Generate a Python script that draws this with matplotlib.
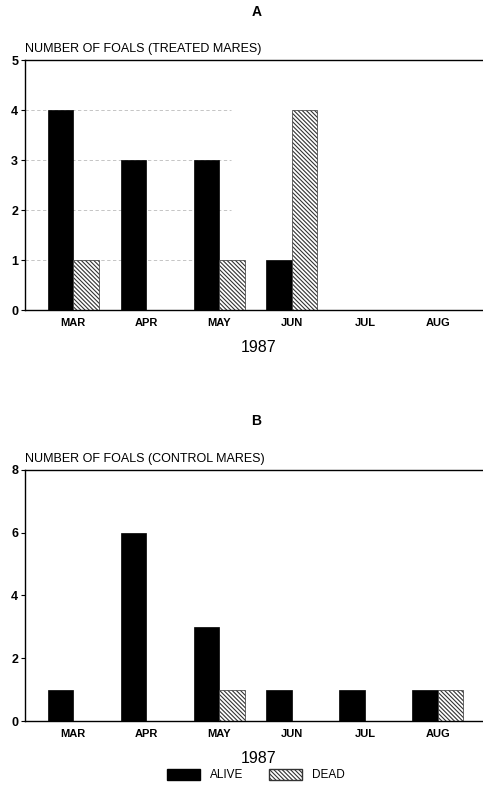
import numpy as np
import matplotlib
matplotlib.use("Agg")
import matplotlib.pyplot as plt
from matplotlib.patches import Patch

plt.rcParams['font.family'] = ['Liberation Sans', 'DejaVu Sans']
plt.rcParams['hatch.linewidth'] = 0.8

# data
months = ['MAR', 'APR', 'MAY', 'JUN', 'JUL', 'AUG']
treated_alive = [4, 3, 3, 1, 0, 0]
treated_dead = [1, 0, 1, 4, 0, 0]
control_alive = [1, 6, 3, 1, 1, 1]
control_dead = [0, 0, 1, 0, 0, 1]

HATCH = '\\' * 8

fig = plt.figure(figsize=(4.83, 7.95), dpi=100)

x = np.arange(len(months))
w = 0.35


def panel(ax, alive, dead, ymax, step, ylabel, letter, grid=False):
    ax.bar(x - w / 2, alive, w, color='black', edgecolor='black', linewidth=0.5)
    ax.bar(x + w / 2, dead, w, color='white', edgecolor='#333333',
           hatch=HATCH, linewidth=0.5)
    ax.set_xlim(-0.66, 5.62)
    ax.set_ylim(0, ymax)
    ax.set_yticks(np.arange(0, ymax + 1, step))
    ax.set_xticks(x)
    ax.set_xticklabels(months, fontsize=8, fontweight='bold')
    ax.tick_params(axis='x', length=0, pad=6)
    ax.tick_params(axis='y', length=3, width=0.8, labelsize=9, pad=2)
    for lab in ax.get_yticklabels():
        lab.set_fontweight('bold')
    ax.spines['right'].set_visible(False)
    for s in ['left', 'top', 'bottom']:
        ax.spines[s].set_linewidth(1.0)
    if grid:
        for yv in range(1, ymax):
            ax.axhline(yv, color='#bbbbbb', linewidth=0.6, linestyle=(0, (4, 3)),
                       zorder=0, xmax=0.45)
    ax.text(0.0, 1.02, ylabel, transform=ax.transAxes, fontsize=9,
            ha='left', va='bottom')
    ax.text(0.505, 1.165, letter, transform=ax.transAxes, fontsize=10,
            fontweight='bold', ha='center', va='bottom')
    ax.text(0.51, -0.12, '1987', transform=ax.transAxes, fontsize=11.5,
            ha='center', va='top')


ax1 = fig.add_axes([0.052, 0.610, 0.948, 0.3145])
panel(ax1, treated_alive, treated_dead, 5, 1,
      'NUMBER OF FOALS (TREATED MARES)', 'A', grid=True)

ax2 = fig.add_axes([0.052, 0.093, 0.948, 0.316])
panel(ax2, control_alive, control_dead, 8, 2,
      'NUMBER OF FOALS (CONTROL MARES)', 'B')

handles = [Patch(facecolor='black', edgecolor='black', label='ALIVE'),
           Patch(facecolor='white', edgecolor='#333333', hatch=HATCH, label='DEAD')]
fig.legend(handles=handles, loc='center', bbox_to_anchor=(0.53, 0.025), ncol=2,
           frameon=False, fontsize=8.5, handlelength=2.8, handleheight=1.0,
           columnspacing=2.2, handletextpad=0.8)

fig.savefig('out.png', dpi=100)
